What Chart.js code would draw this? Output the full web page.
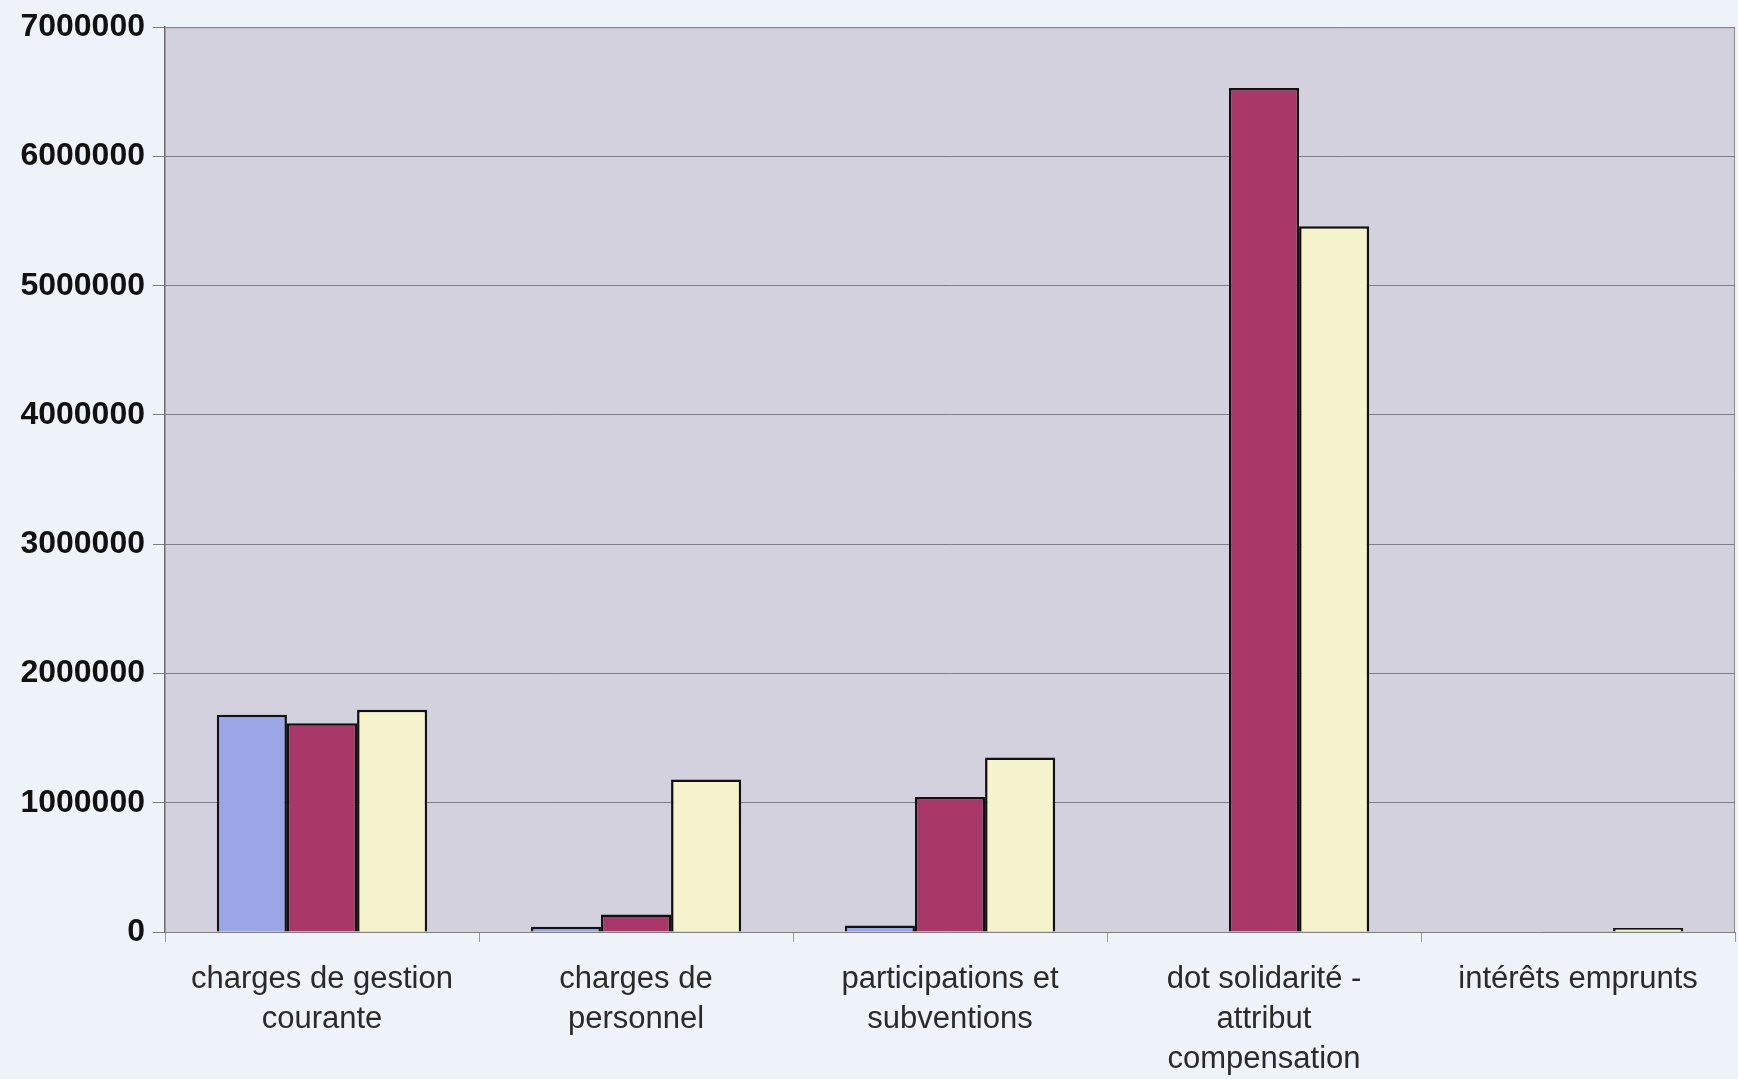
<!DOCTYPE html>
<html>
<head>
<meta charset="utf-8">
<script src="https://cdn.jsdelivr.net/npm/chart.js@4.4.0/dist/chart.umd.min.js"></script>
<style>
  html, body { margin: 0; padding: 0; background: #eef2f9; }
  #wrap { width: 1738px; height: 1079px; position: relative; }
</style>
</head>
<body>
<div id="wrap"><canvas id="chart"></canvas></div>
<script>
// categories (multi-line labels)
const categories = [
  ["charges de gestion", "courante"],
  ["charges de", "personnel"],
  ["participations et", "subventions"],
  ["dot solidarité -", "attribut", "compensation"],
  ["intérêts emprunts"]
];

// series values
const serieBleue = [1680000, 40000, 50000, 0, 0];
const serieRouge = [1615000, 135000, 1045000, 6530000, 5000];
const serieJaune = [1720000, 1180000, 1350000, 5460000, 30000];

// y ticks
const yMin = 0;
const yMax = 7000000;
const yStep = 1000000;

// fond gris-lavande de la zone de tracé
const plotBg = {
  id: 'plotBg',
  beforeDraw(chart) {
    const { ctx, chartArea: a } = chart;
    ctx.save();
    ctx.fillStyle = '#d4d1de';
    ctx.fillRect(a.left, a.top, a.right - a.left, a.bottom - a.top);
    ctx.restore();
  },
  afterDatasetsDraw(chart) {
    const { ctx, chartArea: a } = chart;
    ctx.save();
    ctx.strokeStyle = '#8a8a8a';
    ctx.lineWidth = 1;
    ctx.beginPath();
    ctx.moveTo(a.left, a.top + 0.5);
    ctx.lineTo(a.right - 0.5, a.top + 0.5);
    ctx.lineTo(a.right - 0.5, a.bottom);
    ctx.stroke();
    ctx.restore();
  }
};

const ctx = document.getElementById('chart').getContext('2d');
new Chart(ctx, {
  type: 'bar',
  data: {
    labels: categories,
    datasets: [
      { label: 'série 1', data: serieBleue, backgroundColor: '#9aa6e6', borderColor: '#111', borderWidth: 2.5 },
      { label: 'série 2', data: serieRouge, backgroundColor: '#a93868', borderColor: '#111', borderWidth: 2.5 },
      { label: 'série 3', data: serieJaune, backgroundColor: '#f6f4cc', borderColor: '#111', borderWidth: 2.5 }
    ]
  },
  options: {
    responsive: true,
    maintainAspectRatio: false,
    animation: false,
    devicePixelRatio: 1,
    layout: { padding: { left: 0, right: 3, top: 24, bottom: 0 } },
    plugins: {
      legend: { display: false },
      tooltip: { enabled: false }
    },
    datasets: {
      bar: { categoryPercentage: 0.67, barPercentage: 1.0 }
    },
    scales: {
      x: {
        afterFit(scale) { scale.height = 147; },
        grid: {
          offset: true,
          drawOnChartArea: false,
          drawTicks: true,
          tickLength: 10,
          color: '#9a9a9a'
        },
        border: { color: '#808080', width: 1 },
        ticks: {
          color: '#2a2a2a',
          font: { family: 'Liberation Sans, Arial, sans-serif', size: 31, lineHeight: 1.3 },
          padding: 17,
          maxRotation: 0,
          autoSkip: false
        }
      },
      y: {
        min: yMin,
        max: yMax,
        afterFit(scale) { scale.width = 165; },
        grid: {
          color: '#7d7d85',
          lineWidth: 1,
          tickLength: 12
        },
        border: { color: '#6a6a6a', width: 1.5 },
        ticks: {
          stepSize: yStep,
          color: '#111',
          padding: 8,
          font: { family: 'Liberation Sans, Arial, sans-serif', size: 32, weight: 'bold' },
          callback: v => String(v)
        }
      }
    }
  },
  plugins: [plotBg]
});
</script>
</body>
</html>
